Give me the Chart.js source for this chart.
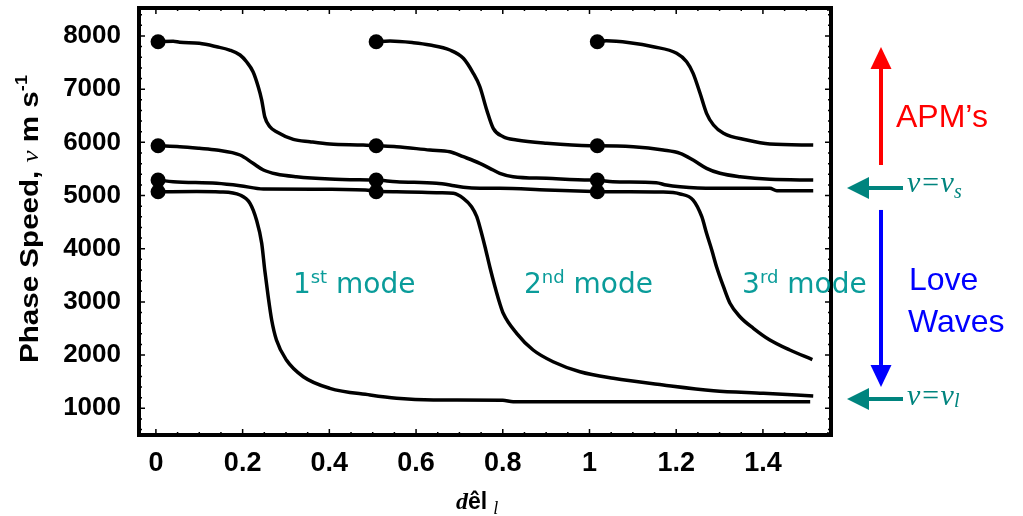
<!DOCTYPE html>
<html>
<head>
<meta charset="utf-8">
<script src="https://cdn.jsdelivr.net/npm/chart.js@4.4.1/dist/chart.umd.min.js"></script>
<style>
  html, body { margin: 0; padding: 0; background: #fff; }
  #chart { display: block; }
</style>
</head>
<body>
<canvas id="chart" width="1023" height="516"></canvas>
<script>
const xTicks = [0, 0.2, 0.4, 0.6, 0.8, 1, 1.2, 1.4];
const xTickLabels = ['0', '0.2', '0.4', '0.6', '0.8', '1', '1.2', '1.4'];
const yTicks = [1000, 2000, 3000, 4000, 5000, 6000, 7000, 8000];

// branch starting at (0, 7900): drops to 5950, 5290, then 5100
const branchAX = [0.005, 0.04, 0.055, 0.10, 0.14, 0.17, 0.194, 0.209, 0.224, 0.236, 0.244, 0.251, 0.263, 0.278, 0.317, 0.355, 0.401, 0.478, 0.508, 0.555, 0.632, 0.678, 0.709, 0.747, 0.770, 0.793, 0.824, 0.901, 1.001, 1.018, 1.054, 1.154, 1.177, 1.209, 1.286, 1.416, 1.432, 1.516];
const branchAY = [7892, 7900, 7881, 7862, 7798, 7736, 7642, 7516, 7328, 7046, 6796, 6482, 6294, 6200, 6057, 6012, 5969, 5950, 5937, 5918, 5856, 5824, 5730, 5606, 5512, 5418, 5354, 5324, 5292, 5290, 5260, 5241, 5198, 5166, 5136, 5136, 5091, 5091];

// branch starting at (0, 5950): 5290, 5080, then 3rd Love mode
const branchBX = [0.005, 0.055, 0.10, 0.14, 0.194, 0.224, 0.248, 0.278, 0.324, 0.401, 0.494, 0.508, 0.555, 0.647, 0.678, 0.709, 0.747, 0.793, 0.901, 1.009, 1.018, 1.093, 1.163, 1.209, 1.239, 1.259, 1.270, 1.282, 1.293, 1.309, 1.324, 1.347, 1.378, 1.416, 1.462, 1.514];
const branchBY = [5937, 5918, 5888, 5856, 5762, 5606, 5480, 5405, 5354, 5311, 5292, 5290, 5260, 5230, 5198, 5155, 5136, 5136, 5104, 5074, 5072, 5072, 5066, 5030, 4916, 4602, 4290, 3976, 3662, 3286, 2974, 2722, 2504, 2284, 2096, 1915];

// branch starting at (0, 5290): 5080, then 2nd Love mode
const branchCX = [0.005, 0.04, 0.14, 0.194, 0.248, 0.401, 0.501, 0.508, 0.555, 0.655, 0.686, 0.709, 0.728, 0.740, 0.747, 0.759, 0.770, 0.782, 0.793, 0.801, 0.832, 0.870, 0.916, 0.978, 1.055, 1.170, 1.286, 1.401, 1.516];
const branchCY = [5292, 5260, 5230, 5185, 5123, 5117, 5090, 5074, 5072, 5053, 5042, 4948, 4790, 4602, 4414, 4038, 3662, 3286, 2974, 2786, 2410, 2096, 1876, 1688, 1564, 1438, 1331, 1282, 1231];

// branch starting at (0, 5080): 1st Love mode
const branchDX = [0.005, 0.094, 0.148, 0.194, 0.217, 0.232, 0.244, 0.251, 0.259, 0.267, 0.278, 0.301, 0.340, 0.401, 0.494, 0.555, 0.640, 0.800, 0.824, 1.509];
const branchDY = [5072, 5075, 5068, 5010, 4854, 4540, 4102, 3600, 3098, 2660, 2284, 1908, 1594, 1376, 1250, 1188, 1156, 1150, 1124, 1124];

// branch starting at (0.5, 7900): 5950, then 5290
const branchEX = [0.508, 0.540, 0.594, 0.632, 0.678, 0.709, 0.732, 0.747, 0.763, 0.778, 0.801, 0.832, 0.901, 1.001, 1.018, 1.101, 1.170, 1.209, 1.239, 1.270, 1.301, 1.347, 1.416, 1.516];
const branchEY = [7892, 7905, 7873, 7830, 7736, 7580, 7298, 7050, 6608, 6264, 6106, 6044, 5982, 5937, 5937, 5918, 5856, 5794, 5668, 5512, 5418, 5354, 5305, 5292];

// branch starting at (1.0, 7900): 5950
const branchFX = [1.018, 1.039, 1.093, 1.147, 1.201, 1.224, 1.239, 1.255, 1.270, 1.286, 1.309, 1.363, 1.416, 1.516];
const branchFY = [7892, 7910, 7873, 7798, 7674, 7516, 7298, 6922, 6546, 6326, 6170, 6044, 5969, 5950];

// cut-off dots
const dotX = [0.005, 0.005, 0.005, 0.005, 0.508, 0.508, 0.508, 0.508, 1.018, 1.018, 1.018, 1.018];
const dotY = [7892, 5937, 5292, 5072, 7892, 5937, 5292, 5072, 7892, 5937, 5292, 5072];

const modeNums = ['1', '2', '3'];
const modeSups = ['st', 'nd', 'rd'];
const modeLabelX = [0.316, 0.849, 1.352];
const modeLabelY = 3168;

const branches = [
    [branchAX, branchAY],
    [branchBX, branchBY],
    [branchCX, branchCY],
    [branchDX, branchDY],
    [branchEX, branchEY],
    [branchFX, branchFY]
];

const datasets = branches.map(function ([xs, ys]) {
    return {
        data: xs.map((x, i) => ({ x: x, y: ys[i] })),
        borderColor: '#000',
        borderWidth: 3.5,
        pointRadius: 0,
        cubicInterpolationMode: 'monotone',
        fill: false
    };
});

datasets.push({
    data: dotX.map((x, i) => ({ x: x, y: dotY[i] })),
    showLine: false,
    pointRadius: 7.5,
    pointBackgroundColor: '#000',
    pointBorderWidth: 0
});

const sans = '"Liberation Sans", Arial, sans-serif';
const serif = '"Liberation Serif", "Times New Roman", serif';
const teal = '#00847e';

function drawRuns(ctx, x, y, parts) {
    parts.forEach(function (p) {
        ctx.font = p.font;
        ctx.fillText(p.t, x, y + (p.dy || 0));
        x += ctx.measureText(p.t).width + (p.gap || 0);
    });
    return x;
}

function runsWidth(ctx, parts) {
    var w = 0;
    parts.forEach(function (p) {
        ctx.font = p.font;
        w += ctx.measureText(p.t).width + (p.gap || 0);
    });
    return w;
}

function arrowV(ctx, x, yFrom, yTip, color) {
    const dir = yTip < yFrom ? -1 : 1;
    const head = 22;
    ctx.strokeStyle = color;
    ctx.fillStyle = color;
    ctx.lineWidth = 4;
    ctx.beginPath();
    ctx.moveTo(x, yFrom);
    ctx.lineTo(x, yTip - dir * head);
    ctx.stroke();
    ctx.beginPath();
    ctx.moveTo(x, yTip);
    ctx.lineTo(x - 10.5, yTip - dir * head);
    ctx.lineTo(x + 10.5, yTip - dir * head);
    ctx.closePath();
    ctx.fill();
}

function arrowLeft(ctx, xFrom, xTip, y, color) {
    const head = 22;
    ctx.strokeStyle = color;
    ctx.fillStyle = color;
    ctx.lineWidth = 4;
    ctx.beginPath();
    ctx.moveTo(xFrom, y);
    ctx.lineTo(xTip + head, y);
    ctx.stroke();
    ctx.beginPath();
    ctx.moveTo(xTip, y);
    ctx.lineTo(xTip + head, y - 11);
    ctx.lineTo(xTip + head, y + 11);
    ctx.closePath();
    ctx.fill();
}

const framePlugin = {
    id: 'frame',
    afterDatasetsDraw(chart) {
        const { ctx, chartArea: a, scales: { x, y } } = chart;
        ctx.save();
        ctx.strokeStyle = '#000';
        ctx.lineWidth = 1.5;
        ctx.beginPath();
        for (let i = 0; i <= 31; i++) {
            const px = x.getPixelForValue(i * 0.05);
            const len = i % 4 === 0 ? 6 : 3;
            ctx.moveTo(px, a.bottom); ctx.lineTo(px, a.bottom - len);
            ctx.moveTo(px, a.top); ctx.lineTo(px, a.top + len);
        }
        for (let v = 600; v <= 8400; v += 200) {
            const py = y.getPixelForValue(v);
            const len = v % 1000 === 0 ? 6 : 3;
            ctx.moveTo(a.left, py); ctx.lineTo(a.left + len, py);
            ctx.moveTo(a.right, py); ctx.lineTo(a.right - len, py);
        }
        ctx.stroke();
        ctx.lineWidth = 4;
        ctx.strokeRect(a.left, a.top, a.right - a.left, a.bottom - a.top);
        ctx.restore();
    }
};

const notesPlugin = {
    id: 'notes',
    afterDraw(chart) {
        const { ctx, chartArea: a, scales: { x, y } } = chart;
        ctx.save();
        ctx.textBaseline = 'alphabetic';
        ctx.textAlign = 'left';

        // y axis title, rotated
        const yTitle = [
            { t: 'Phase Speed, ', font: 'bold 26px ' + sans },
            { t: 'ν', font: 'italic 24px ' + serif },
            { t: ' m s', font: 'bold 26px ' + sans },
            { t: '-1', font: 'bold 16px ' + sans, dy: -11 }
        ];
        ctx.fillStyle = '#000';
        ctx.save();
        ctx.translate(38, 363);
        ctx.rotate(-Math.PI / 2);
        ctx.scale(288 / runsWidth(ctx, yTitle), 1);
        drawRuns(ctx, 0, 0, yTitle);
        ctx.restore();

        // x axis title
        drawRuns(ctx, 456, 509, [
            { t: 'd', font: 'italic bold 24px ' + serif },
            { t: 'êl', font: 'bold 23px ' + sans, gap: 6 },
            { t: 'l', font: 'italic 18px ' + serif, dy: 5 }
        ]);

        // mode labels
        ctx.fillStyle = '#0a9c9a';
        modeNums.forEach(function (n, i) {
            drawRuns(ctx, x.getPixelForValue(modeLabelX[i]), y.getPixelForValue(modeLabelY), [
                { t: n, font: '28px "DejaVu Sans"' },
                { t: modeSups[i], font: '18px "DejaVu Sans"', dy: -10 },
                { t: ' mode', font: '28px "DejaVu Sans"' }
            ]);
        });

        // right side annotations
        const ax = a.right + 50;
        arrowV(ctx, ax, y.getPixelForValue(5574), y.getPixelForValue(7794), '#ff0000');
        arrowV(ctx, ax, y.getPixelForValue(4729), y.getPixelForValue(1401), '#0000ff');
        arrowLeft(ctx, a.right + 72, a.right + 16, y.getPixelForValue(5142), teal);
        arrowLeft(ctx, a.right + 72, a.right + 16, y.getPixelForValue(1175), teal);

        ctx.fillStyle = '#ff0000';
        ctx.font = '32px ' + sans;
        ctx.fillText('APM’s', a.right + 65, y.getPixelForValue(6294));

        ctx.fillStyle = '#0000ff';
        ctx.fillText('Love', a.right + 78, y.getPixelForValue(3224));
        ctx.fillText('Waves', a.right + 77, y.getPixelForValue(2440));

        ctx.fillStyle = teal;
        drawRuns(ctx, a.right + 76, y.getPixelForValue(5070), [
            { t: 'v=v', font: 'italic 30px ' + serif },
            { t: 's', font: 'italic 20px ' + serif, dy: 6 }
        ]);
        drawRuns(ctx, a.right + 76, y.getPixelForValue(1064), [
            { t: 'v=v', font: 'italic 30px ' + serif },
            { t: 'l', font: 'italic 20px ' + serif, dy: 2 }
        ]);
        ctx.restore();
    }
};

new Chart(document.getElementById('chart'), {
    type: 'line',
    data: { datasets: datasets },
    options: {
        responsive: false,
        animation: false,
        layout: { padding: { top: 8, right: 192, left: 0, bottom: 0 } },
        plugins: {
            legend: { display: false },
            tooltip: { enabled: false }
        },
        scales: {
            x: {
                type: 'linear',
                min: -0.039,
                max: 1.557,
                grid: { display: false, drawTicks: false },
                border: { display: false },
                afterBuildTicks: function (scale) {
                    scale.ticks = xTicks.map(v => ({ value: v }));
                },
                afterFit: function (scale) {
                    scale.height = 81;
                    scale.paddingLeft = 0;
                    scale.paddingRight = 0;
                },
                ticks: {
                    padding: 12,
                    color: '#000',
                    font: { family: sans, size: 27, weight: 'bold' },
                    callback: (value, index) => xTickLabels[index]
                }
            },
            y: {
                type: 'linear',
                min: 498,
                max: 8526,
                grid: { display: false, drawTicks: false },
                border: { display: false },
                afterBuildTicks: function (scale) {
                    scale.ticks = yTicks.map(v => ({ value: v }));
                },
                afterFit: function (scale) {
                    scale.width = 139;
                    scale.paddingTop = 0;
                    scale.paddingBottom = 0;
                },
                ticks: {
                    padding: 18,
                    color: '#000',
                    font: { family: sans, size: 26, weight: 'bold' },
                    callback: (value) => String(value)
                }
            }
        }
    },
    plugins: [framePlugin, notesPlugin]
});
</script>
</body>
</html>
